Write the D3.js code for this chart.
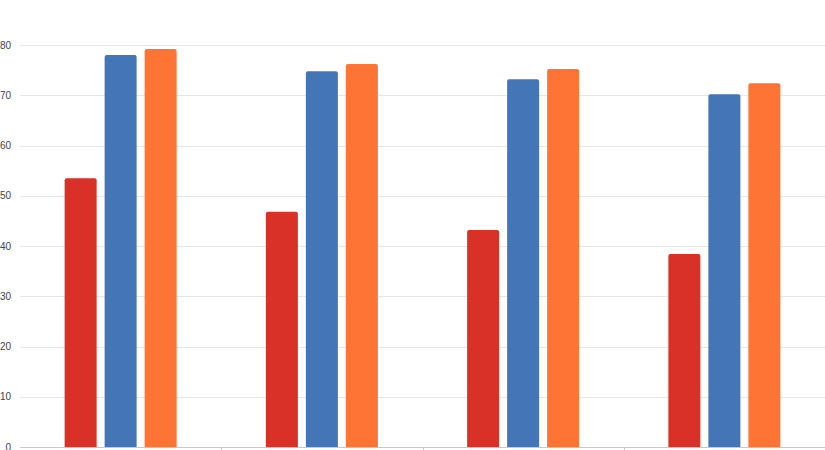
<!DOCTYPE html>
<html>
<head>
<meta charset="utf-8">
<script src="https://cdn.jsdelivr.net/npm/d3@7"></script>
<style>
  body { margin: 0; background: #fff; }
  svg { display: block; font-family: "Liberation Sans", Arial, sans-serif; }
</style>
</head>
<body>
<div id="chart"></div>
<script>
// data
const groups = ['G1', 'G2', 'G3', 'G4'];
const seriesNames = ['red', 'blue', 'orange'];
const redValues = [53.5, 46.8, 43.2, 38.4];
const blueValues = [78.0, 74.8, 73.2, 70.2];
const orangeValues = [79.2, 76.2, 75.2, 72.4];
const yTicks = [0, 10, 20, 30, 40, 50, 60, 70, 80];
const colors = ['#d93127', '#4375b7', '#fd7435'];

const width = 825;
const height = 450;
const margin = {top: 45, right: 0, bottom: 3, left: 20};

const svg = d3.select('#chart').append('svg')
    .attr('width', width)
    .attr('height', height);

const x0 = d3.scaleBand()
    .domain(groups)
    .range([margin.left, width - margin.right]);

const x1 = d3.scaleBand()
    .domain(seriesNames)
    .range([x0.bandwidth() / 2 - 60, x0.bandwidth() / 2 + 60])
    .paddingInner(0.2)
    .paddingOuter(0.1);

const y = d3.scaleLinear()
    .domain([0, 80])
    .range([height - margin.bottom, margin.top]);

// gridlines
svg.append('g')
  .selectAll('line')
  .data(yTicks)
  .enter().append('line')
    .attr('x1', margin.left)
    .attr('x2', width)
    .attr('y1', d => Math.round(y(d)) + 0.5)
    .attr('y2', d => Math.round(y(d)) + 0.5)
    .attr('stroke', d => d === 0 ? '#c8c8c8' : '#e6e6e6');

// y labels
svg.append('g')
  .selectAll('text')
  .data(yTicks)
  .enter().append('text')
    .attr('x', 11)
    .attr('y', d => y(d))
    .attr('dy', '0.35em')
    .attr('text-anchor', 'end')
    .attr('font-size', 10)
    .attr('fill', '#444')
    .text(d => d);

// category boundary ticks
svg.append('g')
  .selectAll('line')
  .data(groups.slice(1))
  .enter().append('line')
    .attr('x1', d => Math.round(x0(d)) + 0.5)
    .attr('x2', d => Math.round(x0(d)) + 0.5)
    .attr('y1', y(0))
    .attr('y2', y(0) + 6)
    .attr('stroke', '#c8c8c8');

const table = groups.map((g, i) => ({
  group: g,
  vals: [redValues[i], blueValues[i], orangeValues[i]]
}));

// rounded-top bar path
const barPath = (x, yTop, w, yBase, r) =>
  `M${x},${yBase}V${yTop + r}Q${x},${yTop} ${x + r},${yTop}H${x + w - r}Q${x + w},${yTop} ${x + w},${yTop + r}V${yBase}Z`;

const gs = svg.append('g')
  .selectAll('g')
  .data(table)
  .enter().append('g')
    .attr('transform', d => `translate(${x0(d.group)},0)`);

gs.selectAll('path')
  .data(d => d.vals.map((v, j) => ({key: seriesNames[j], v, c: colors[j]})))
  .enter().append('path')
    .attr('d', d => barPath(x1(d.key), y(d.v), x1.bandwidth(), y(0), 2))
    .attr('fill', d => d.c);
</script>
</body>
</html>
